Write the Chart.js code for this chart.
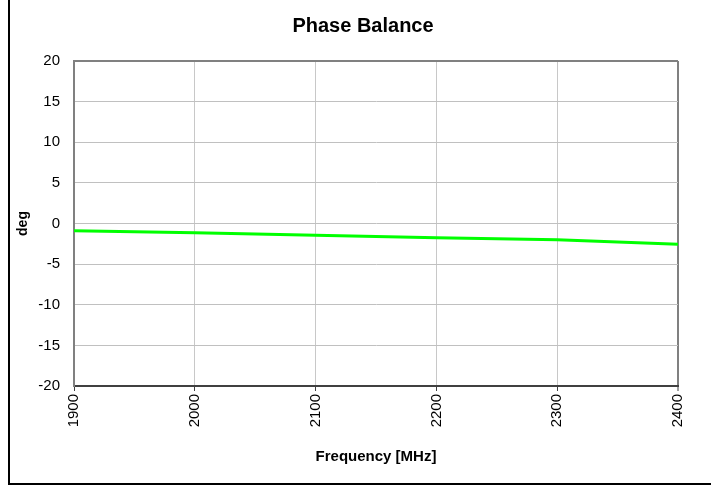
<!DOCTYPE html>
<html>
<head>
<meta charset="utf-8">
<script src="https://cdn.jsdelivr.net/npm/chart.js@4"></script>
<style>
  html, body { margin: 0; padding: 0; background: #fff; }
  #wrap { position: relative; width: 711px; height: 487px; }
</style>
</head>
<body>
<div id="wrap"><canvas id="chart" width="711" height="487"></canvas></div>
<script>
// values
const frequencies = [1900, 2000, 2100, 2200, 2300, 2400];
const phaseBalance = [-0.9, -1.15, -1.45, -1.75, -2.0, -2.55];
const yTicks = { min: -20, max: 20, step: 5 };
const xTicks = { min: 1900, max: 2400, step: 100 };

const PLOT_LEFT = 74;
const PLOT_BOTTOM = 386;
const PAD_LEFT = 15;
const PAD_BOTTOM = 18;
const TITLE_LEFT = 48; // title in the original is centred a bit right of the canvas middle

// outer frame (left + bottom edge, the rest is cut off in the original)
const framePlugin = {
  id: 'frame',
  afterLayout(chart) {
    if (chart.titleBlock) chart.titleBlock.left = TITLE_LEFT;
  },
  beforeDraw(chart) {
    const ctx = chart.ctx;
    ctx.save();
    ctx.fillStyle = '#fff';
    ctx.fillRect(0, 0, chart.width, chart.height);
    ctx.fillStyle = '#000';
    ctx.fillRect(8, 0, 2, 485);
    ctx.fillRect(8, 483, chart.width - 8, 2);
    ctx.restore();
  }
};

const ctx = document.getElementById('chart').getContext('2d');
new Chart(ctx, {
  type: 'line',
  data: {
    datasets: [{
      label: 'Phase Balance',
      data: frequencies.map((f, i) => ({ x: f, y: phaseBalance[i] })),
      borderColor: '#00ff00',
      borderWidth: 3,
      pointRadius: 0,
      tension: 0,
      fill: false
    }]
  },
  options: {
    responsive: false,
    animation: false,
    devicePixelRatio: 1,
    layout: {
      padding: { left: PAD_LEFT, right: 33, top: 0, bottom: PAD_BOTTOM }
    },
    plugins: {
      legend: { display: false },
      tooltip: { enabled: false },
      title: {
        display: true,
        text: 'Phase Balance',
        color: '#000',
        font: { family: 'Liberation Sans, Arial, sans-serif', size: 20, weight: 'bold' },
        padding: { top: 14.5, bottom: 22.5 }
      }
    },
    scales: {
      x: {
        type: 'linear',
        min: xTicks.min,
        max: xTicks.max,
        afterFit: s => { s.height = 487 - PAD_BOTTOM - PLOT_BOTTOM; },
        ticks: {
          stepSize: xTicks.step,
          color: '#000',
          minRotation: 90,
          maxRotation: 90,
          padding: 3,
          font: { family: 'Liberation Sans, Arial, sans-serif', size: 15 },
          callback: v => String(v)
        },
        grid: {
          color: c => c.tick && c.tick.value === xTicks.max ? '#808080' : '#c8c8c8',
          lineWidth: c => c.tick && c.tick.value === xTicks.max ? 2 : 1,
          tickColor: '#404040',
          tickLength: 5,
          tickWidth: 1
        },
        border: { color: '#404040', width: 2 },
        title: {
          display: true,
          text: 'Frequency [MHz]',
          color: '#000',
          font: { family: 'Liberation Sans, Arial, sans-serif', size: 15, weight: 'bold' },
          padding: { top: 4, bottom: 3 }
        }
      },
      y: {
        min: yTicks.min,
        max: yTicks.max,
        afterFit: s => { s.width = PLOT_LEFT - PAD_LEFT; },
        ticks: {
          stepSize: yTicks.step,
          color: '#000',
          padding: 14,
          font: { family: 'Liberation Sans, Arial, sans-serif', size: 15 }
        },
        grid: {
          color: c => c.tick && c.tick.value === yTicks.max ? '#808080' : '#c0c0c0',
          lineWidth: c => c.tick && c.tick.value === yTicks.max ? 2 : 1,
          drawTicks: false
        },
        border: { color: '#808080', width: 2 },
        title: {
          display: true,
          text: 'deg',
          color: '#000',
          font: { family: 'Liberation Sans, Arial, sans-serif', size: 14, weight: 'bold' },
          padding: 0
        }
      }
    }
  },
  plugins: [framePlugin]
});
</script>
</body>
</html>
